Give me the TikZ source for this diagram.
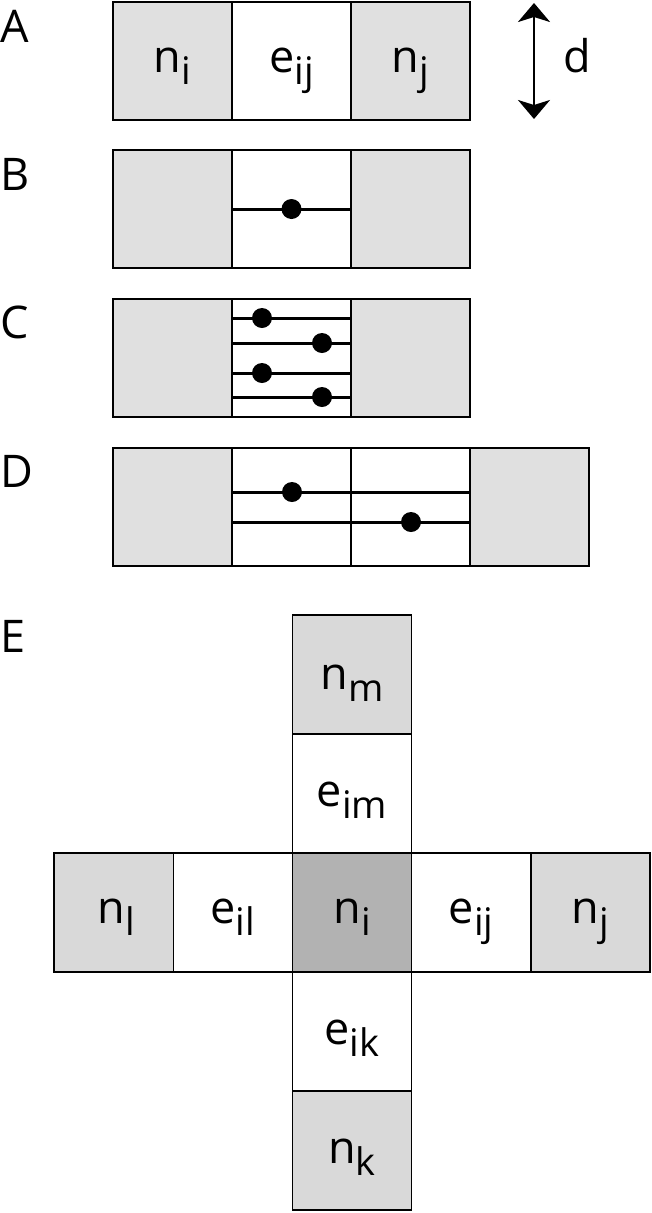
\documentclass[tikz,border=0pt]{standalone}
\usepackage{fontspec}
\setmainfont{Open Sans}
\usetikzlibrary{arrows.meta}
\definecolor{lightg}{gray}{0.88}
\definecolor{midg}{gray}{0.85}
\definecolor{darkg}{gray}{0.70}
\newcommand{\sbs}[1]{\raisebox{-12pt}{\fontsize{38}{38}\selectfont #1}}
\begin{document}
\begin{tikzpicture}[x=1pt,y=-1pt,
  cell/.style={draw, line width=1.4pt, minimum width=119pt, minimum height=118pt, inner sep=0pt, anchor=north west, outer sep=0pt},
  gcell/.style={cell, fill=lightg},
  wcell/.style={cell, fill=white},
  ecell/.style={draw, line width=1.4pt, minimum width=119.2pt, minimum height=119pt, inner sep=0pt, anchor=north west, outer sep=0pt},
  egcell/.style={ecell, fill=midg},
  ewcell/.style={ecell, fill=white},
  edcell/.style={ecell, fill=darkg},
  txt/.style={font=\fontsize{45}{45}\selectfont, inner sep=0pt, anchor=base},
  lab/.style={font=\fontsize{45}{45}\selectfont, inner sep=0pt, anchor=base west},
  wire/.style={line width=3pt},
  dot/.style={circle, fill=black, minimum size=20pt, inner sep=0pt}
]
\useasboundingbox (0,0) rectangle (651,1213);

% ---------- A ----------
\node[lab] (labA) at (0,42) {A};
\node[gcell] (a1) at (113,2) {};
\node[wcell] (a2) at (232,2) {};
\node[gcell] (a3) at (351,2) {};
\node[txt] (ta1) at ([yshift=-11pt]a1.center) {n\sbs{i}};
\node[txt] (ta2) at ([yshift=-11pt]a2.center) {e\sbs{ij}};
\node[txt] (ta3) at ([yshift=-11pt]a3.center) {n\sbs{j}};
\coordinate (dtop) at (534,3);
\coordinate (dbot) at (534,119);
\draw[line width=2.5pt, {Stealth[length=19pt,width=32pt,inset=5pt]}-{Stealth[length=19pt,width=32pt,inset=5pt]}] (dtop) -- (dbot);
\node[lab] (dl) at (563,72) {d};

% ---------- B ----------
\node[lab] (labB) at (0,190) {B};
\node[gcell] (b1) at (113,150) {};
\node[wcell] (b2) at (232,150) {};
\node[gcell] (b3) at (351,150) {};
\draw[wire] (b2.west) -- (b2.east);
\node[dot] (bd) at (b2.center) {};

% ---------- C ----------
\node[lab] (labC) at (0,338) {C};
\node[gcell] (c1) at (113,299) {};
\node[wcell] (c2) at (232,299) {};
\node[gcell] (c3) at (351,299) {};
\foreach \yy/\xx/\nm in {318/262/1, 343/322/2, 373/262/3, 397/322/4}{
  \coordinate (cl\nm) at (232,\yy);
  \coordinate (cr\nm) at (351,\yy);
  \draw[wire] (cl\nm) -- (cr\nm);
  \node[dot] (cd\nm) at (\xx,\yy) {};
}

% ---------- D ----------
\node[lab] (labD) at (0,487) {D};
\node[gcell] (d1) at (113,448) {};
\node[wcell] (d2) at (232,448) {};
\node[wcell] (d3) at (351,448) {};
\node[gcell] (d4) at (470,448) {};
\coordinate (dl1) at (232,492);
\coordinate (dr1) at (470,492);
\coordinate (dl2) at (232,522);
\coordinate (dr2) at (470,522);
\draw[wire] (dl1) -- (dr1);
\draw[wire] (dl2) -- (dr2);
\node[dot] (dd1) at (292,492) {};
\node[dot] (dd2) at (411,522) {};

% ---------- E ----------
\node[lab] (labE) at (0,652) {E};
\node[egcell] (em) at (292.4,615) {};
\node[ewcell] (eim) at (292.4,734) {};
\node[egcell] (el) at (54,853) {};
\node[ewcell] (eil) at (173.2,853) {};
\node[edcell] (ei) at (292.4,853) {};
\node[ewcell] (eij) at (411.6,853) {};
\node[egcell] (ej) at (530.8,853) {};
\node[ewcell] (eik) at (292.4,972) {};
\node[egcell] (ek) at (292.4,1091) {};
\node[txt] (tm) at ([yshift=-15pt]em.center) {n\sbs{m}};
\node[txt] (tim) at ([yshift=-13pt]eim.center) {e\sbs{im}};
\node[txt] (tl) at ([xshift=3pt,yshift=-11pt]el.center) {n\sbs{l}};
\node[txt] (til) at ([yshift=-11pt]eil.center) {e\sbs{il}};
\node[txt] (ti) at ([yshift=-11pt]ei.center) {n\sbs{i}};
\node[txt] (tij) at ([yshift=-11pt]eij.center) {e\sbs{ij}};
\node[txt] (tj) at ([yshift=-11pt]ej.center) {n\sbs{j}};
\node[txt] (tik) at ([yshift=-13pt]eik.center) {e\sbs{ik}};
\node[txt] (tk) at ([yshift=-13pt]ek.center) {n\sbs{k}};
\end{tikzpicture}
\end{document}
